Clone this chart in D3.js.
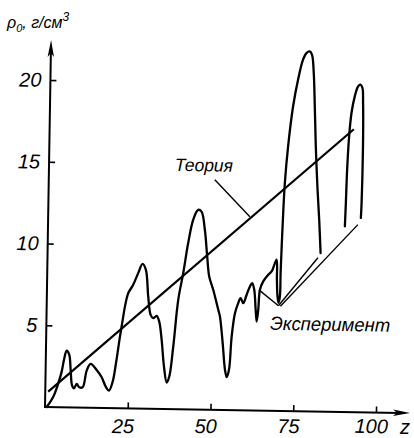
<!DOCTYPE html>
<html><head><meta charset="utf-8">
<script src="https://cdn.jsdelivr.net/npm/d3@7"></script>
<style>body{margin:0;background:#fff}svg{display:block}</style>
</head><body>
<svg id="c" width="414" height="438"></svg>
<script>
// ---- data ----
const xTicks = [25, 50, 75, 100];
const yTicks = [5, 10, 15, 20];
const theoryX = [0.9, 91.9];
const theoryY = [0.94, 17.3];
const exp1X = [0.5,2.45,3.89,4.86,5.49,6.26,7.07,7.57,8.04,8.66,9.46,10.26,11.29,12.41,13.58,15.42,16.97,18.33,19.25,20.32,21.22,22.29,23.18,23.64,24.57,26.03,27.48,28.76,29.79,30.63,31.45,32.25,33.27,34.08,34.9,35.74,36.64,37.39,38.44,39.71,41.08,42.43,43.82,45.28,46.31,47.4,48.24,48.95,50.23,51.85,52.39,53.35,54.18,54.74,55.39,56.03,56.91,57.85,58.55,59.36,60.35,61.3,61.98,62.62,63.15,63.51,63.93,64.34,65.29,66.77,67.78,69.22,69.42,69.66,70.0,70.41,70.5,70.86,71.33,72.13,73.43,74.8,76.21,77.2,78.19,78.9,79.51,79.99,80.5,81.24,81.89,82.48];
const exp1Y = [0,0.64,1.46,2.18,2.89,3.47,3.21,2.29,1.37,1.17,1.44,1.24,1.25,2.27,2.68,2.32,1.88,1.27,1.07,1.62,2.75,4.38,5.61,6.22,7.04,7.56,8.28,8.85,8.49,6.86,5.74,5.54,5.69,5.34,4.22,2.59,1.62,1.99,3.83,6.69,8.32,10.17,11.6,12.21,12.11,11.0,9.37,8.15,7.34,6.12,5.71,4.09,2.46,2.01,2.46,4.5,5.93,6.55,6.86,6.55,7.07,7.58,7.79,7.38,6.16,5.44,6.16,7.39,7.9,8.31,8.52,9.24,8.02,7.04,6.61,7.04,8.43,11.28,13.94,16.18,18.63,20.27,21.5,21.91,22.01,21.81,20.7,18.66,16.21,13.56,11.73,9.69];
const exp2X = [89.68,89.86,90.08,90.51,91.11,92.02,92.96,93.68,94.3,94.56,94.74,94.73,94.61,94.47];
const exp2Y = [11.35,12.78,14.82,16.86,18.29,19.31,19.92,20.03,19.83,18.91,16.87,14.83,12.8,11.88];
const yAxisTitle = ["ρ", "0", ", г/см", "3"];
const xAxisTitle = "z";
const theoryLabel = "Теория";
const expLabel = "Эксперимент";

// ---- chart ----
const svg = d3.select("#c");
const x = d3.scaleLinear().domain([0, 100]).range([45, 376]);
const y = d3.scaleLinear().domain([0, 20]).range([407, 80]);
const FONT = "'Liberation Sans', Arial, sans-serif";
const ROT = 0.95;
const tanR = Math.tan(ROT * Math.PI / 180);

const g = svg.append("g").attr("transform", `rotate(${ROT},45,407)`);

// axes lines
const xEnd = 110.3, yEnd = 22.45;
g.append("line").attr("x1", x(0)).attr("y1", y(0)).attr("x2", x(xEnd) - 10).attr("y2", y(0))
  .attr("stroke", "#000").attr("stroke-width", 2);
g.append("line").attr("x1", x(0)).attr("y1", y(0) + 1).attr("x2", x(0)).attr("y2", y(yEnd) + 10)
  .attr("stroke", "#000").attr("stroke-width", 2);
// arrowheads
const tx = x(xEnd), ty = y(0);
g.append("path").attr("d", `M${tx},${ty} L${tx-17},${ty-3.2} L${tx-13},${ty} L${tx-17},${ty+3.2} Z`).attr("fill", "#000");
const ax = x(0), ay = y(yEnd);
g.append("path").attr("d", `M${ax},${ay} L${ax-3.2},${ay+17} L${ax},${ay+13} L${ax+3.2},${ay+17} Z`).attr("fill", "#000");

// ticks
const xa = g.append("g").attr("transform", `translate(0,${y(0)})`)
  .call(d3.axisBottom(x).tickValues(xTicks).tickSize(-6).tickPadding(12).tickFormat(d3.format("d")));
const ya = g.append("g").attr("transform", `translate(${x(0)},0)`)
  .call(d3.axisLeft(y).tickValues(yTicks).tickSize(-6).tickPadding(9).tickFormat(d3.format("d")));
[xa, ya].forEach(a => {
  a.select(".domain").remove();
  a.selectAll(".tick line").attr("stroke", "#000").attr("stroke-width", 1.6);
  a.selectAll(".tick text").attr("font-family", FONT).attr("font-style", "italic")
    .attr("font-size", 20).attr("fill", "#000");
});
// keep x labels on a level row (as in the reference) despite the slight tilt
xa.selectAll(".tick text").attr("dx", -5).attr("y", d => 12 - (x(d) - 45) * tanR);

// theory line
const pts = (xs, ys) => xs.map((v, i) => [x(v), y(ys[i])]);
g.append("path").attr("d", d3.line()(pts(theoryX, theoryY)))
  .attr("fill", "none").attr("stroke", "#000").attr("stroke-width", 2.2);

// experiment curves
const curve = d3.line().curve(d3.curveCatmullRom.alpha(0.5));
[[exp1X, exp1Y], [exp2X, exp2Y]].forEach(([xs, ys]) => {
  g.append("path").attr("d", curve(pts(xs, ys)))
    .attr("fill", "none").attr("stroke", "#000").attr("stroke-width", 2.3)
    .attr("stroke-linejoin", "round").attr("stroke-linecap", "round");
});

// annotations
const leader = (a, b) => g.append("line")
  .attr("x1", x(a[0])).attr("y1", y(a[1])).attr("x2", x(b[0])).attr("y2", y(b[1]))
  .attr("stroke", "#000").attr("stroke-width", 1.4);
leader([50.16, 14.07], [60.93, 11.84]);
const apex = [70.01, 6.43];
leader(apex, [64.04, 7.38]);
leader(apex, [81.69, 9.4]);
leader([70.6, 6.4], [93.6, 11.47]);

g.append("text").attr("x", x(38.03)).attr("y", y(14.57)).text(theoryLabel)
  .attr("font-family", FONT).attr("font-style", "italic").attr("font-size", 18)
  .attr("textLength", 58).attr("lengthAdjust", "spacingAndGlyphs");
g.append("text").attr("x", x(67.6)).attr("y", y(4.95)).text(expLabel)
  .attr("font-family", FONT).attr("font-style", "italic").attr("font-size", 19)
  .attr("textLength", 120).attr("lengthAdjust", "spacingAndGlyphs");

// axis titles
const t = svg.append("text").attr("x", 7).attr("y", 28)
  .attr("font-family", FONT).attr("font-style", "italic").attr("font-size", 16);
t.append("tspan").text(yAxisTitle[0]);
t.append("tspan").text(yAxisTitle[1]).attr("font-size", 11).attr("dy", 4);
t.append("tspan").text(yAxisTitle[2]).attr("dy", -4);
t.append("tspan").text(yAxisTitle[3]).attr("font-size", 12).attr("dy", -7);
svg.append("text").attr("x", 400).attr("y", 434).text(xAxisTitle)
  .attr("font-family", FONT).attr("font-style", "italic").attr("font-size", 20);
</script>
</body></html>
